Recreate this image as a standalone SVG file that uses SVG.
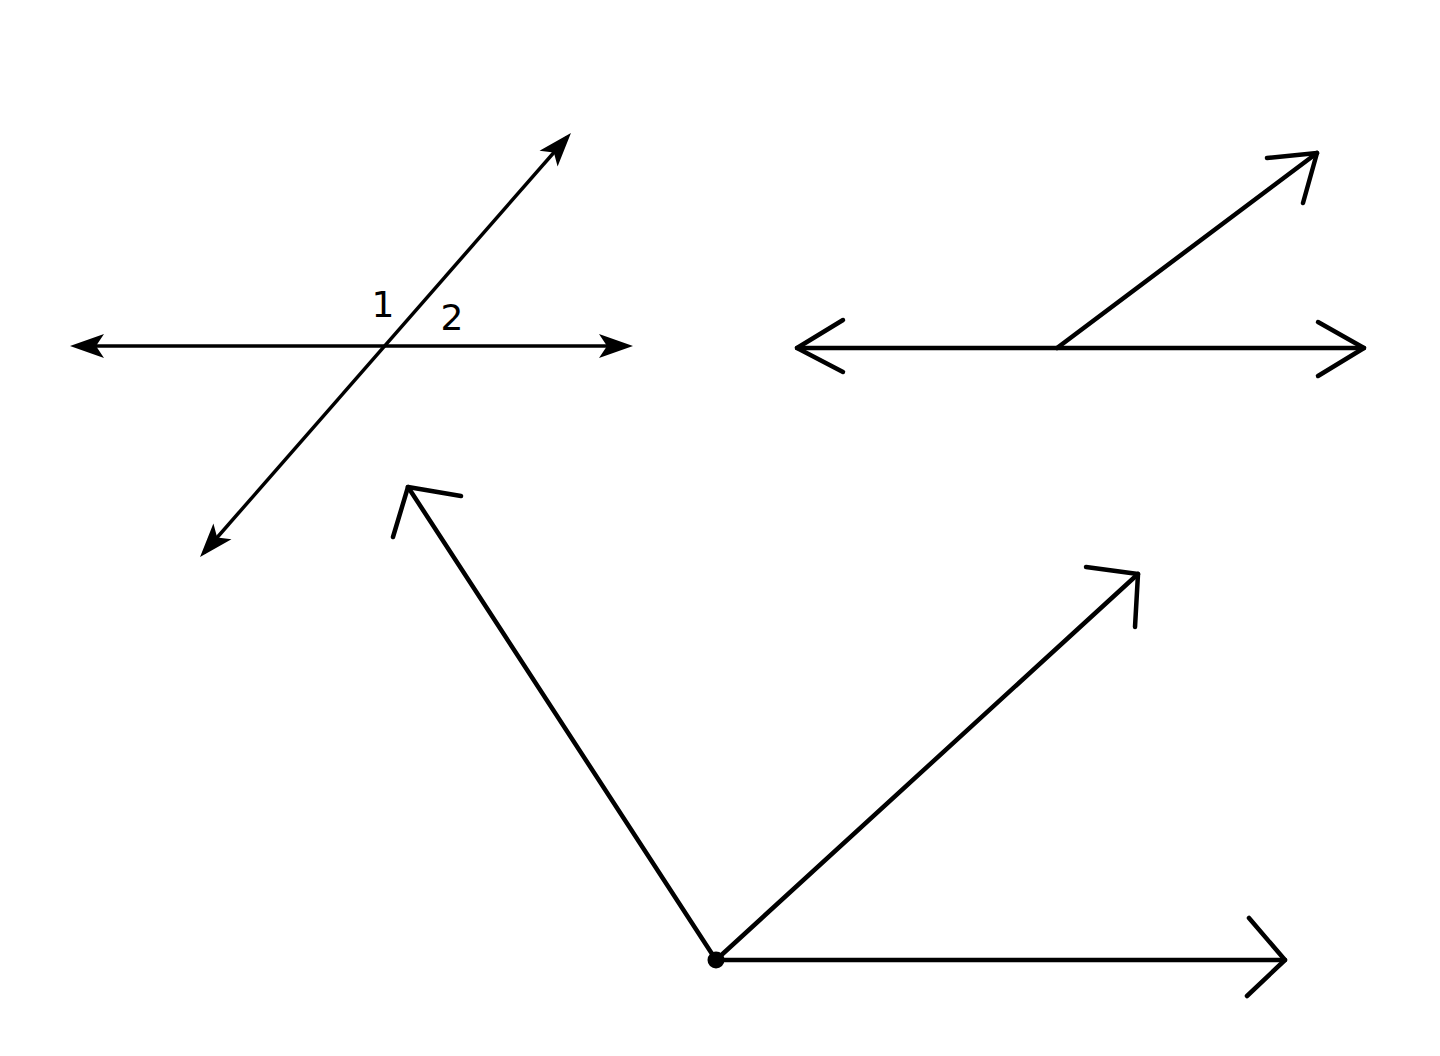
<svg xmlns="http://www.w3.org/2000/svg" width="1440" height="1056" viewBox="0 0 1440 1056">
<style>
.thin{stroke:#000;stroke-width:3.5;fill:none}
.thick{stroke:#000;stroke-width:4.5;fill:none;stroke-linecap:round;stroke-linejoin:round}
.lbl{font-family:"DejaVu Sans",sans-serif;font-size:36px;fill:#000}
</style>
<defs>
<marker id="ah" viewBox="-30 -14 38 28" refX="0" refY="0" markerWidth="38" markerHeight="28" markerUnits="userSpaceOnUse" orient="auto-start-reverse">
<path d="M6,0 L-28,-12 L-20,0 L-28,12 Z" fill="#000"/>
</marker>
</defs>
<rect width="1440" height="1056" fill="#fff"/>
<g id="connectors">
<line id="fig1-horizontal" class="thin" x1="76" y1="346" x2="627" y2="346" marker-start="url(#ah)" marker-end="url(#ah)"/>
<line id="fig1-transversal" class="thin" x1="204" y1="552.5" x2="567" y2="137.5" marker-start="url(#ah)" marker-end="url(#ah)"/>
<line class="thick" x1="797" y1="348" x2="1364" y2="348"/>
<polyline class="thick" points="843,320 797,348 843,372"/>
<polyline class="thick" points="1318,322 1364,348 1318,376"/>
<line class="thick" x1="1057" y1="348" x2="1317" y2="153"/>
<polyline class="thick" points="1267,158 1317,153 1303,203"/>
<line class="thick" x1="716" y1="960" x2="408" y2="487"/>
<polyline class="thick" points="461,496 408,487 393,537"/>
<line class="thick" x1="716" y1="960" x2="1138" y2="574"/>
<polyline class="thick" points="1086,567 1138,574 1135,627"/>
<line class="thick" x1="716" y1="960" x2="1285" y2="960"/>
<polyline class="thick" points="1249,918 1285,960 1247,996"/>
</g>
<g id="labels">
<text class="lbl" x="383" y="317" text-anchor="middle">1</text>
<text class="lbl" x="452" y="330" text-anchor="middle">2</text>
</g>
<g id="vertex">
<circle cx="716" cy="960" r="8.5" fill="#000"/>
</g>
</svg>
